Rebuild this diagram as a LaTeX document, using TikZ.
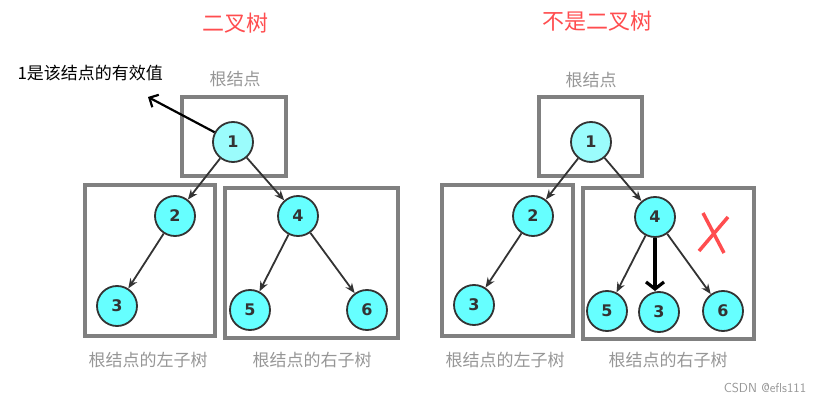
\documentclass[tikz,border=0pt]{standalone}
\usepackage{fontspec}
\setmainfont{Noto Sans CJK SC}
\newfontfamily\numfont{DejaVu Sans}
\usetikzlibrary{arrows.meta}
\definecolor{boxgray}{RGB}{128,128,128}
\definecolor{labgray}{RGB}{150,150,150}
\definecolor{cyanfill}{RGB}{102,255,255}
\definecolor{cyanlite}{RGB}{155,252,252}
\definecolor{titlered}{RGB}{255,77,79}
\definecolor{edgegray}{RGB}{51,51,51}
\begin{document}
\begin{tikzpicture}[x=1pt,y=-1pt,
  treenode/.style={circle,draw=edgegray,line width=1.8pt,fill=cyanfill,
    minimum size=40pt,inner sep=0pt,font=\numfont\bfseries\fontsize{16}{16}\selectfont,text=edgegray},
  rootnode/.style={treenode,fill=cyanlite},
  framebox/.style={draw=boxgray,line width=3.5pt},
  edge/.style={draw=edgegray,line width=1.8pt,-{Stealth[length=10pt,width=8pt]}},
  sublabel/.style={text=labgray,font=\fontsize{17}{17}\selectfont},
  title/.style={text=titlered,font=\fontsize{22}{22}\selectfont}]
\useasboundingbox (0,0) rectangle (827,403);
% left: binary tree
\node[title] (t1) at (235,23) {二叉树};
\node[sublabel] (r1) at (235,79) {根结点};
\node[font=\fontsize{17}{17}\selectfont,anchor=west] (note) at (14,73) {1是该结点的有效值};
\draw[framebox] (182,97) rectangle (286,176);
\draw[framebox] (85,185) rectangle (215,336);
\draw[framebox] (225,188) rectangle (398,338);
\node[rootnode] (a1) at (233,142) {1};
\node[treenode] (a2) at (175,216) {2};
\node[treenode] (a3) at (117,306) {3};
\node[treenode] (a4) at (298,216) {4};
\node[treenode] (a5) at (250,310) {5};
\node[treenode] (a6) at (367,310) {6};
\draw[edge] (a1) -- (a2);
\draw[edge] (a1) -- (a4);
\draw[edge] (a2) -- (a3);
\draw[edge] (a4) -- (a5);
\draw[edge] (a4) -- (a6);
\coordinate (tip) at (148,97);
\draw[line width=2.2pt,-{Straight Barb[length=7pt,width=14pt]}] (a1) -- (tip);
\node[sublabel] (l1) at (148,360) {根结点的左子树};
\node[sublabel] (l2) at (312,360) {根结点的右子树};
% right: not a binary tree
\node[title] (t2) at (597,21) {不是二叉树};
\node[sublabel] (r2) at (591,80) {根结点};
\draw[framebox] (539,97) rectangle (642,176);
\draw[framebox] (442,185) rectangle (573,336);
\draw[framebox] (583,188) rectangle (754,339);
\node[rootnode] (b1) at (591,142) {1};
\node[treenode] (b2) at (533,216) {2};
\node[treenode] (b3) at (474,305) {3};
\node[treenode] (b4) at (655,217) {4};
\node[treenode] (b5) at (607,311) {5};
\node[treenode] (b7) at (659,312) {3};
\node[treenode] (b6) at (723,311) {6};
\draw[edge] (b1) -- (b2);
\draw[edge] (b1) -- (b4);
\draw[edge] (b2) -- (b3);
\draw[edge] (b4) -- (b5);
\draw[edge] (b4) -- (b6);
\coordinate (down) at (655,291);
\draw[line width=3.2pt,-{Straight Barb[length=7pt,width=18pt]}] (b4.south) -- (down);
\draw[titlered,line width=3.5pt] (703,213) -- (724,253);
\draw[titlered,line width=3.5pt] (728,217) -- (699,251);
\node[sublabel] (l3) at (505,360) {根结点的左子树};
\node[sublabel] (l4) at (668,360) {根结点的右子树};
\node[text=labgray,font=\sffamily\fontsize{13}{13}\selectfont] (mark) at (765,388) {CSDN @efls111};
\end{tikzpicture}
\end{document}
